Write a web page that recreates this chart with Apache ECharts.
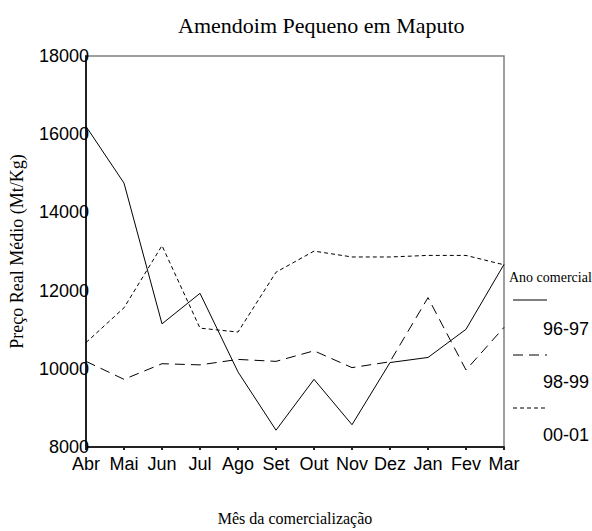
<!DOCTYPE html>
<html>
<head>
<meta charset="utf-8">
<script src="https://cdn.jsdelivr.net/npm/echarts@6/dist/echarts.min.js"></script>
<style>
  html, body { margin: 0; padding: 0; background: #fff; }
  #chart { width: 592px; height: 531px; }
</style>
</head>
<body>
<div id="chart"></div>
<script>
// meses
const months = ['Abr', 'Mai', 'Jun', 'Jul', 'Ago', 'Set', 'Out', 'Nov', 'Dez', 'Jan', 'Fev', 'Mar'];

// preço real médio por ano comercial
const s9697 = [16200, 14750, 11150, 11930, 9920, 8430, 9730, 8570, 10160, 10290, 11010, 12670];
const s9899 = [10190, 9730, 10130, 10100, 10240, 10190, 10460, 10030, 10180, 11820, 9970, 11060];
const s0001 = [10670, 11560, 13150, 11040, 10940, 12470, 13010, 12860, 12860, 12900, 12900, 12660];

const yTicks = [8000, 10000, 12000, 14000, 16000, 18000];

const serif = '"Liberation Serif", "Times New Roman", serif';
const sans = '"Liberation Sans", Arial, sans-serif';

let chart = echarts.init(document.getElementById('chart'), null, {
    renderer: 'svg',
    width: 592,
    height: 531
});

chart.setOption({
    backgroundColor: '#fff',
    animation: false,
    title: {
        text: 'Amendoim Pequeno em Maputo',
        left: 173,
        top: 9,
        textStyle: { fontFamily: serif, fontSize: 22, fontWeight: 'normal', color: '#000' }
    },
    grid: {
        left: 86,
        right: 88,
        top: 56,
        bottom: 83,
        show: true,
        borderColor: '#808080',
        borderWidth: 1.5
    },
    xAxis: {
        type: 'category',
        data: months,
        boundaryGap: false,
        name: 'Mês da comercialização',
        nameLocation: 'middle',
        nameGap: 63,
        nameTextStyle: { fontFamily: serif, fontSize: 16, color: '#000' },
        axisLine: { lineStyle: { color: '#222', width: 2 } },
        axisTick: { show: true, length: 3, lineStyle: { color: '#222', width: 2 } },
        axisLabel: { fontFamily: sans, fontSize: 18, color: '#000', margin: 8, interval: 0 },
        splitLine: { show: false }
    },
    yAxis: {
        type: 'value',
        min: yTicks[0],
        max: yTicks[yTicks.length - 1],
        interval: 2000,
        name: 'Preço Real Médio (Mt/Kg)',
        nameLocation: 'middle',
        nameGap: 60,
        nameTextStyle: { fontFamily: serif, fontSize: 18, color: '#000' },
        axisLine: { show: true, lineStyle: { color: '#222', width: 2 } },
        axisTick: { show: false },
        axisLabel: {
            fontFamily: sans, fontSize: 18, color: '#000', margin: -3,
            formatter: (v) => String(v)
        },
        splitLine: { show: false }
    },
    series: [
        {
            name: '96-97',
            type: 'line',
            data: s9697,
            symbol: 'none',
            lineStyle: { color: '#000', width: 1, type: 'solid' }
        },
        {
            name: '98-99',
            type: 'line',
            data: s9899,
            symbol: 'none',
            lineStyle: { color: '#000', width: 1, type: [10, 6] }
        },
        {
            name: '00-01',
            type: 'line',
            data: s0001,
            symbol: 'none',
            lineStyle: { color: '#000', width: 1, type: [4, 3] }
        }
    ],
    // legenda desenhada à mão (amostra em cima, texto em baixo)
    graphic: [
        {
            type: 'text', left: 509, top: 270,
            style: { text: 'Ano comercial', font: '14px ' + serif, fill: '#000' }
        },
        {
            type: 'line', shape: { x1: 513, y1: 300, x2: 547, y2: 300 },
            style: { stroke: '#000', lineWidth: 1 }
        },
        {
            type: 'text', left: 543, top: 320,
            style: { text: '96-97', font: '18px ' + sans, fill: '#000' }
        },
        {
            type: 'line', shape: { x1: 513, y1: 355, x2: 547, y2: 355 },
            style: { stroke: '#000', lineWidth: 1, lineDash: [10, 6] }
        },
        {
            type: 'text', left: 543, top: 373,
            style: { text: '98-99', font: '18px ' + sans, fill: '#000' }
        },
        {
            type: 'line', shape: { x1: 513, y1: 408, x2: 547, y2: 408 },
            style: { stroke: '#000', lineWidth: 1, lineDash: [4, 3] }
        },
        {
            type: 'text', left: 543, top: 426,
            style: { text: '00-01', font: '18px ' + sans, fill: '#000' }
        }
    ]
});
</script>
</body>
</html>
